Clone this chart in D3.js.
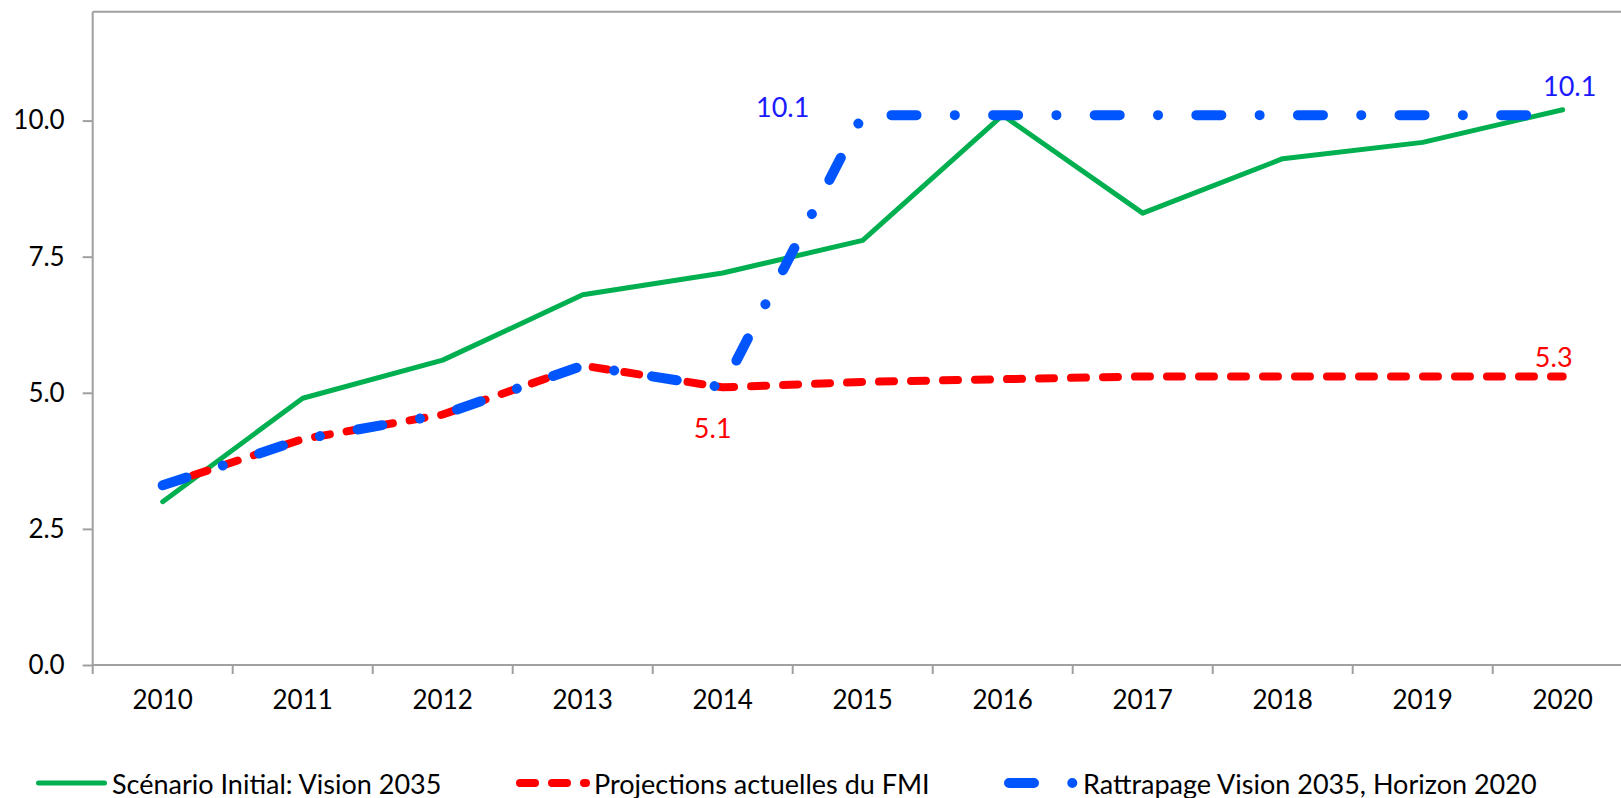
<!DOCTYPE html>
<html>
<head>
<meta charset="utf-8">
<script src="https://cdn.jsdelivr.net/npm/d3@7"></script>
<style>
  html, body { margin: 0; padding: 0; background: #fff; }
  svg { display: block; font-family: Lato, "Open Sans", sans-serif; }
</style>
</head>
<body>
<svg id="chart" width="1621" height="798"></svg>
<script>
// data
var years = ["2010", "2011", "2012", "2013", "2014", "2015", "2016", "2017", "2018", "2019", "2020"];
var initial = [3.0, 4.9, 5.6, 6.8, 7.2, 7.8, 10.1, 8.3, 9.3, 9.6, 10.2];
var fmi = [3.3, 4.15, 4.6, 5.5, 5.1, 5.2, 5.25, 5.3, 5.3, 5.3, 5.3];
var rattrapage = [3.3, 4.15, 4.6, 5.5, 5.1, 10.1, 10.1, 10.1, 10.1, 10.1, 10.1];
var yTicks = [0, 2.5, 5, 7.5, 10];
var seriesNames = ["Scénario Initial: Vision 2035", "Projections actuelles du FMI", "Rattrapage Vision 2035, Horizon 2020"];

var svg = d3.select("#chart");
var plotLeft = 92.7, plotTop = 11.7, plotBottom = 665;

var x = d3.scaleBand().domain(years).range([plotLeft, plotLeft + 11 * 140]).padding(0);
var y = d3.scaleLinear().domain([0, 12]).range([plotBottom, plotTop]);
var cx = function(d, i) { return x(years[i]) + x.bandwidth() / 2; };

var axisColor = "#a0a0a0";

// frame: top line and left axis
svg.append("line")
    .attr("x1", plotLeft).attr("x2", 1621).attr("y1", plotTop).attr("y2", plotTop)
    .attr("stroke", axisColor).attr("stroke-width", 2);

var yAxis = svg.append("g")
    .attr("transform", "translate(" + plotLeft + ",0)")
    .call(d3.axisLeft(y).tickValues(yTicks).tickSize(10).tickPadding(18)
      .tickFormat(d3.format(".1f")));
yAxis.select(".domain").remove();
yAxis.append("line").attr("x1", 0).attr("x2", 0).attr("y1", plotTop).attr("y2", plotBottom)
    .attr("stroke", axisColor).attr("stroke-width", 2);

var xAxis = svg.append("g")
    .attr("transform", "translate(0," + plotBottom + ")")
    .call(d3.axisBottom(x).tickSize(0).tickPadding(26));
xAxis.select(".domain").remove();
xAxis.append("line").attr("x1", plotLeft).attr("x2", 1621).attr("y1", 0).attr("y2", 0)
    .attr("stroke", axisColor).attr("stroke-width", 2);
// ticks on category boundaries
xAxis.selectAll(".bound")
    .data(years)
    .enter().append("line")
      .attr("class", "bound")
      .attr("x1", function(d) { return x(d); })
      .attr("x2", function(d) { return x(d); })
      .attr("y1", 0).attr("y2", 9)
      .attr("stroke", axisColor).attr("stroke-width", 2);

svg.selectAll(".tick line").attr("stroke", axisColor).attr("stroke-width", 2);
svg.selectAll(".tick text")
    .attr("fill", "#000")
    .style("font-family", "Lato, 'Open Sans', sans-serif")
    .style("font-size", "26px");

// series
var line = d3.line().x(cx).y(function(d) { return y(d); });

var styles = [
  { data: initial, color: "#00b050", width: 5, dash: null },
  { data: fmi, color: "#ff0000", width: 8, dash: "15 17" },
  { data: rattrapage, color: "#0055ff", width: 10, dash: "25 38.3 0.01 38.3" }
];

styles.forEach(function(s) {
  svg.append("path")
      .attr("d", line(s.data))
      .attr("fill", "none")
      .attr("stroke", s.color)
      .attr("stroke-width", s.width)
      .attr("stroke-linecap", "round")
      .attr("stroke-linejoin", "round")
      .attr("stroke-dasharray", s.dash);
});

// data labels
var labels = [
  { text: "10.1", i: 5, v: rattrapage[5], dx: -80, dy: -9, color: "#1a1aff" },
  { text: "10.1", i: 10, v: rattrapage[10], dx: 7, dy: -30, color: "#1a1aff" },
  { text: "5.3", i: 10, v: fmi[10], dx: -9, dy: -20, color: "#ff0000" },
  { text: "5.1", i: 4, v: fmi[4], dx: -10, dy: 40, color: "#ff0000" }
];
svg.selectAll(".dlabel")
    .data(labels)
    .enter().append("text")
      .attr("class", "dlabel")
      .attr("x", function(d) { return cx(null, d.i) + d.dx; })
      .attr("y", function(d) { return y(d.v) + d.dy; })
      .attr("text-anchor", "middle")
      .attr("dominant-baseline", "central")
      .attr("fill", function(d) { return d.color; })
      .style("font-size", "27px")
      .text(function(d) { return d.text; });

// legend
var legendY = 783;
var legendItems = [
  { x0: 38.5, tx: 112 },
  { x0: 520, tx: 594 },
  { x0: 1009, tx: 1083 }
];
styles.forEach(function(s, i) {
  var it = legendItems[i];
  svg.append("line")
      .attr("x1", it.x0).attr("x2", it.x0 + 66)
      .attr("y1", legendY).attr("y2", legendY)
      .attr("stroke", s.color)
      .attr("stroke-width", s.width)
      .attr("stroke-linecap", "round")
      .attr("stroke-dasharray", s.dash);
  svg.append("text")
      .attr("x", it.tx).attr("y", legendY)
      .attr("dominant-baseline", "central")
      .attr("fill", "#000")
      .style("font-size", "27px")
      .text(seriesNames[i]);
});
</script>
</body>
</html>
